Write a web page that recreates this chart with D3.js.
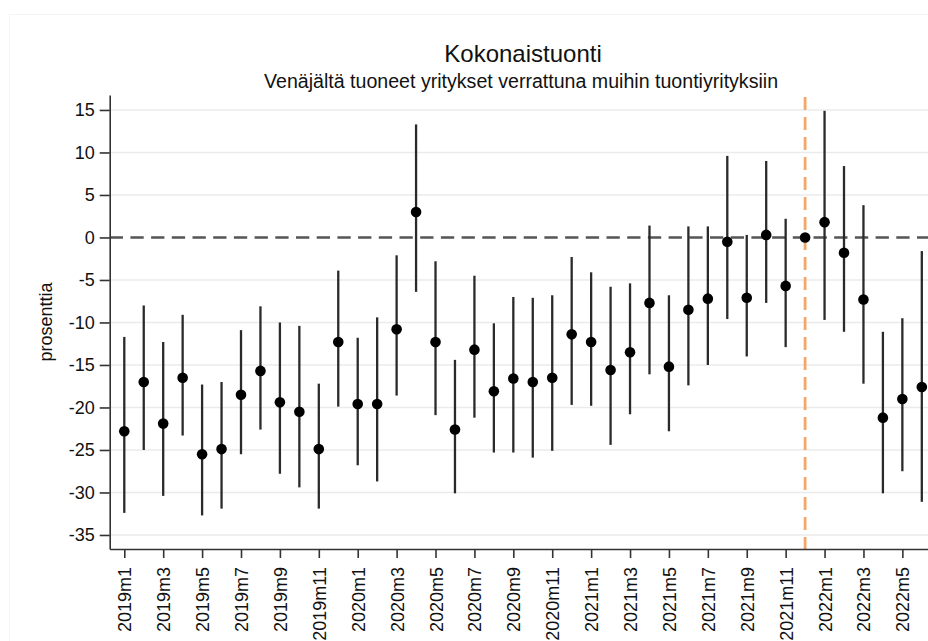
<!DOCTYPE html>
<html>
<head>
<meta charset="utf-8">
<script src="https://cdn.jsdelivr.net/npm/d3@7"></script>
<style>
  body { margin: 0; background: #fff; }
  svg { display: block; font-family: "Liberation Sans", Arial, sans-serif; }
</style>
</head>
<body>
<script>
// kuukaudet 2019m1 - 2022m6
const months = [
  "2019m1","2019m2","2019m3","2019m4","2019m5","2019m6","2019m7","2019m8","2019m9","2019m10","2019m11","2019m12",
  "2020m1","2020m2","2020m3","2020m4","2020m5","2020m6","2020m7","2020m8","2020m9","2020m10","2020m11","2020m12",
  "2021m1","2021m2","2021m3","2021m4","2021m5","2021m6","2021m7","2021m8","2021m9","2021m10","2021m11","2021m12",
  "2022m1","2022m2","2022m3","2022m4","2022m5","2022m6"
];
const coef = [
  -22.8, -17.0, -21.9, -16.5, -25.5, -24.9, -18.5, -15.7, -19.4, -20.5, -24.9, -12.3,
  -19.6, -19.6, -10.8, 3.0, -12.3, -22.6, -13.2, -18.1, -16.6, -17.0, -16.5, -11.4,
  -12.3, -15.6, -13.5, -7.7, -15.2, -8.5, -7.2, -0.5, -7.1, 0.3, -5.7, 0.0,
  1.8, -1.8, -7.3, -21.2, -19.0, -17.6
];
const ciLow = [
  -32.4, -25.0, -30.4, -23.3, -32.7, -31.9, -25.5, -22.6, -27.8, -29.4, -31.9, -19.9,
  -26.8, -28.7, -18.6, -6.4, -20.9, -30.1, -21.2, -25.3, -25.3, -25.9, -25.1, -19.7,
  -19.8, -24.4, -20.8, -16.1, -22.8, -17.4, -15.0, -9.6, -14.0, -7.7, -12.9, null,
  -9.7, -11.1, -17.2, -30.1, -27.5, -31.1
];
const ciHigh = [
  -11.7, -8.0, -12.3, -9.1, -17.3, -17.0, -10.9, -8.1, -10.0, -10.4, -17.2, -3.9,
  -11.8, -9.4, -2.1, 13.3, -2.8, -14.4, -4.5, -10.1, -7.0, -7.1, -6.8, -2.3,
  -4.1, -5.8, -5.4, 1.4, -6.8, 1.3, 1.3, 9.6, 0.3, 9.0, 2.2, null,
  14.9, 8.4, 3.8, -11.1, -9.5, -1.6
];
const yTicks = [-35, -30, -25, -20, -15, -10, -5, 0, 5, 10, 15];
const xTickIdx = [0, 2, 4, 6, 8, 10, 12, 14, 16, 18, 20, 22, 24, 26, 28, 30, 32, 34, 36, 38, 40];
const refMonth = "2021m12";

const W = 928, H = 641;
const pLeft = 109.7, pRight = 936.4, pTop = 95, pBottom = 549;

const svg = d3.select("body").append("svg")
  .attr("width", W).attr("height", H);

svg.append("rect").attr("width", W).attr("height", H).attr("fill", "#fff");
svg.append("rect")
  .attr("x", 9.5).attr("y", 14.5).attr("width", W).attr("height", H)
  .attr("fill", "none").attr("stroke", "#f4f4f4");

const x = d3.scaleLinear().domain([-0.75, months.length - 0.25]).range([pLeft, pRight]);
const y = d3.scaleLinear().domain([-36.65, 16.76]).range([pBottom, pTop]);

// ruudukko
svg.append("g").selectAll("line")
  .data(yTicks.filter(d => d !== 0))
  .join("line")
  .attr("x1", pLeft).attr("x2", pRight)
  .attr("y1", d => y(d)).attr("y2", d => y(d))
  .attr("stroke", "#ebebeb").attr("stroke-width", 1.6);

// nollaviiva
svg.append("line")
  .attr("x1", pLeft).attr("x2", pRight)
  .attr("y1", y(0)).attr("y2", y(0))
  .attr("stroke", "#555").attr("stroke-width", 2.4)
  .attr("stroke-dasharray", "13.3,7.4");

// 2022 raja
const refIdx = months.indexOf(refMonth);
svg.append("line")
  .attr("x1", x(refIdx)).attr("x2", x(refIdx))
  .attr("y1", pTop).attr("y2", pBottom)
  .attr("stroke", "#f5a66b").attr("stroke-width", 2.8)
  .attr("stroke-dasharray", "13,7")
  .attr("stroke-dashoffset", -2);

const rows = months.map((m, i) => ({ m, i, b: coef[i], lo: ciLow[i], hi: ciHigh[i] }));

svg.append("g").selectAll("line")
  .data(rows.filter(d => d.lo !== null))
  .join("line")
  .attr("x1", d => x(d.i)).attr("x2", d => x(d.i))
  .attr("y1", d => y(d.lo)).attr("y2", d => y(d.hi))
  .attr("stroke", "#2a2a2a").attr("stroke-width", 2.3);

svg.append("g").selectAll("circle")
  .data(rows)
  .join("circle")
  .attr("cx", d => x(d.i)).attr("cy", d => y(d.b))
  .attr("r", 5.3).attr("fill", "#000");

// akselit
const yAxis = svg.append("g")
  .attr("transform", `translate(${pLeft},0)`)
  .call(d3.axisLeft(y).tickValues(yTicks).tickFormat(d => String(d))
    .tickSize(10).tickSizeOuter(0).tickPadding(5));
yAxis.selectAll("text").attr("font-size", 18).attr("fill", "#111");

const xAxis = svg.append("g")
  .attr("transform", `translate(0,${pBottom})`)
  .call(d3.axisBottom(x).tickValues(xTickIdx).tickFormat(i => months[i]).tickSize(9).tickSizeOuter(0));
xAxis.selectAll("text")
  .attr("font-size", 18).attr("fill", "#111")
  .attr("transform", "rotate(-90)")
  .attr("text-anchor", "end")
  .attr("x", -18).attr("y", 0).attr("dy", "0.36em");

svg.selectAll("g[font-family]").attr("font-family", null);
svg.selectAll(".domain").attr("stroke", "#333").attr("stroke-width", 1.6);
svg.selectAll(".tick line").attr("stroke", "#333").attr("stroke-width", 1.6);

// otsikot
svg.append("text")
  .attr("x", (pLeft + pRight) / 2).attr("y", 62)
  .attr("text-anchor", "middle").attr("font-size", 24).attr("fill", "#111")
  .text("Kokonaistuonti");
svg.append("text")
  .attr("x", (pLeft + pRight) / 2 - 2).attr("y", 88)
  .attr("text-anchor", "middle").attr("font-size", 19.6).attr("fill", "#111")
  .text("Venäjältä tuoneet yritykset verrattuna muihin tuontiyrityksiin");

svg.append("text")
  .attr("transform", `translate(52,${(pTop + pBottom) / 2}) rotate(-90)`)
  .attr("text-anchor", "middle").attr("font-size", 18).attr("fill", "#111")
  .text("prosenttia");
</script>
</body>
</html>
